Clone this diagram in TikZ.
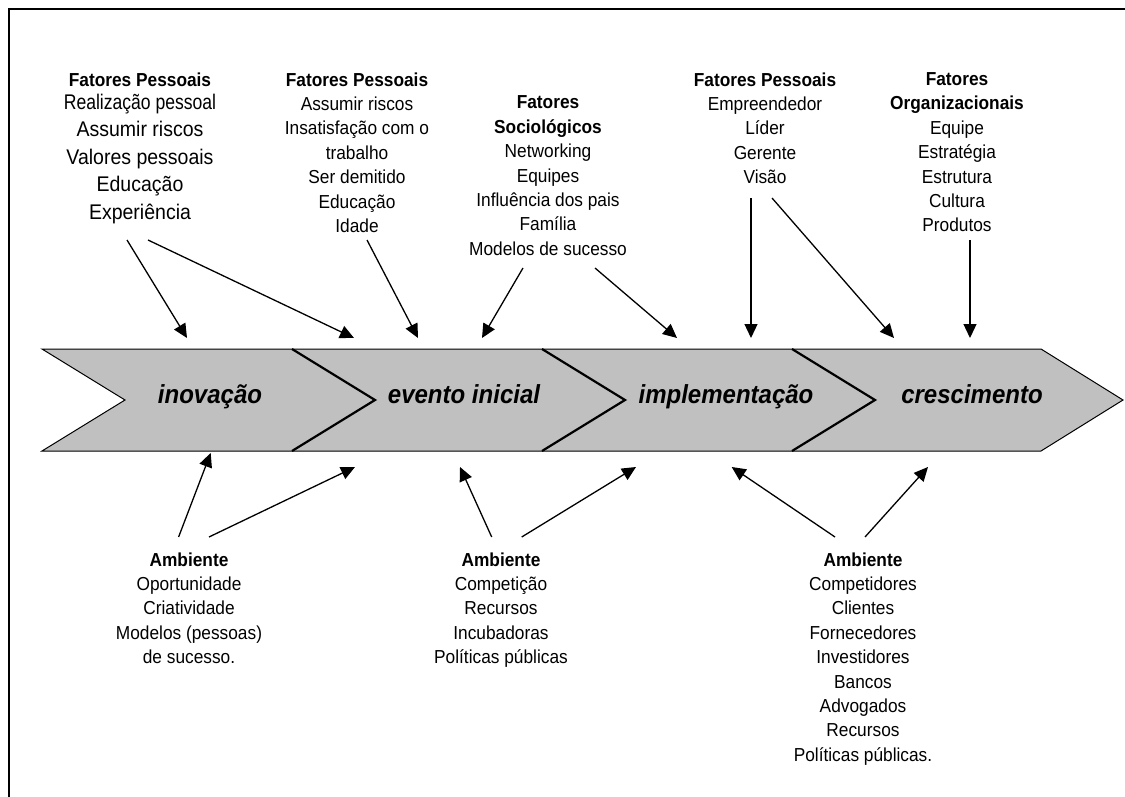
\documentclass[tikz,border=0pt]{standalone}
\usepackage{fontspec}
\setmainfont{Liberation Sans}[FakeStretch=0.92]
\usetikzlibrary{arrows.meta}
\definecolor{bannergray}{RGB}{192,192,192}
\begin{document}
\begin{tikzpicture}[x=1pt,y=-1pt,
  lbl/.style={align=center, inner sep=0pt, anchor=north, font=\fontsize{18.8}{24.4}\selectfont},
  stagelbl/.style={inner sep=0pt, anchor=base, font=\fontsize{26.1}{30}\selectfont\bfseries\itshape},
  arr/.style={line width=1.3pt, -{Triangle[length=14pt,width=13pt]}},
  edge/.style={line width=1pt, line join=miter},
  sep/.style={line width=2.2pt, line join=miter}]
\useasboundingbox (0,0) rectangle (1125,797);
% frame
\draw[line width=2pt] (9,797) -- (9,9) -- (1125,9);
% banner
\fill[bannergray] (42,349) -- (1041,349) -- (1123,400) -- (1041,451) -- (42,451) -- (125,400) -- cycle;
\draw[edge] (42,349) -- (1041,349) -- (1123,400) -- (1041,451) -- (42,451) -- (125,400) -- cycle;
\draw[sep] (292,349) -- (375,400) -- (292,451);
\draw[sep] (542,349) -- (625,400) -- (542,451);
\draw[sep] (792,349) -- (875,400) -- (792,451);
\node[stagelbl] (st1) at (210,403) {inovação};
\node[stagelbl] (st2) at (464,403) {evento inicial};
\node[stagelbl] (st3) at (726,403) {implementação};
\node[stagelbl] (st4) at (972,403) {crescimento};
% top blocks
\node[lbl] (t1) at (140,72.3) {\textbf{Fatores Pessoais}\\[-1.4pt]
  {\fontsize{21.2}{27}\selectfont \scalebox{0.9}[1]{Realização pessoal}}\\[3.2pt]
  {\fontsize{21.2}{27}\selectfont Assumir riscos}\\[3.2pt]
  {\fontsize{21.2}{27}\selectfont Valores pessoais}\\[3.2pt]
  {\fontsize{21.2}{27}\selectfont Educação}\\[3.2pt]
  {\fontsize{21.2}{27}\selectfont Experiência}};
\node[lbl] (t2) at (357,72.3) {\textbf{Fatores Pessoais}\\Assumir riscos\\Insatisfação com o\\trabalho\\Ser demitido\\Educação\\Idade};
\node[lbl] (t3) at (548,95.7) {\textbf{Fatores}\\\textbf{Sociológicos}\\Networking\\Equipes\\Influência dos pais\\Família\\Modelos de sucesso};
\node[lbl] (t4) at (765,72.3) {\textbf{Fatores Pessoais}\\Empreendedor\\Líder\\Gerente\\Visão};
\node[lbl] (t5) at (957,72.3) {\textbf{Fatores}\\\textbf{Organizacionais}\\Equipe\\Estratégia\\Estrutura\\Cultura\\Produtos};
% bottom blocks
\node[lbl] (b1) at (189,552.3) {\textbf{Ambiente}\\Oportunidade\\Criatividade\\Modelos (pessoas)\\de sucesso.};
\node[lbl] (b2) at (501,552.3) {\textbf{Ambiente}\\Competição\\Recursos\\Incubadoras\\Políticas públicas};
\node[lbl] (b3) at (863,552.3) {\textbf{Ambiente}\\Competidores\\Clientes\\Fornecedores\\Investidores\\Bancos\\Advogados\\Recursos\\Políticas públicas.};
% connector end points
\coordinate (s1) at (127,240); \coordinate (e1) at (187,338);
\coordinate (s2) at (148,240); \coordinate (e2) at (354,338);
\coordinate (s3) at (367,240); \coordinate (e3) at (418,338);
\coordinate (s4) at (523,268); \coordinate (e4) at (482,338);
\coordinate (s5) at (595,268); \coordinate (e5) at (677,338);
\coordinate (s6) at (751,198); \coordinate (e6) at (751,338);
\coordinate (s7) at (772,198); \coordinate (e7) at (894,338);
\coordinate (s8) at (970,240); \coordinate (e8) at (970,338);
\coordinate (sa) at (178.6,537); \coordinate (ea) at (210.7,453);
\coordinate (sb) at (209,537); \coordinate (eb) at (355,467);
\coordinate (sc) at (491.7,537); \coordinate (ec) at (460,467);
\coordinate (sd) at (521.7,537); \coordinate (ed) at (636,467);
\coordinate (se) at (835,537); \coordinate (ee) at (731.7,467);
\coordinate (sf) at (865,537); \coordinate (ef) at (928,467);
\foreach \k in {1,...,8,a,b,c,d,e,f} { \draw[arr] (s\k) -- (e\k); }
\end{tikzpicture}
\end{document}
